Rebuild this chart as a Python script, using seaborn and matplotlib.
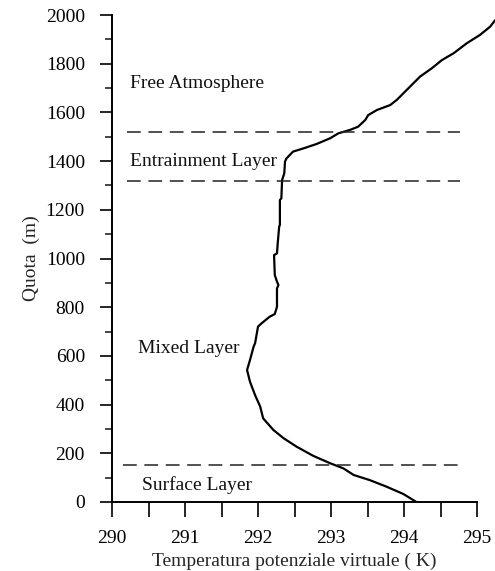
import numpy as np
import pandas as pd
import matplotlib
matplotlib.use("Agg")
import matplotlib.pyplot as plt
import seaborn as sns
from matplotlib.ticker import MultipleLocator

# ---- data ----
temperature = [294.17, 293.99, 293.76, 293.53, 293.31, 293.17, 292.99, 292.76, 292.53,
               292.35, 292.21, 292.07, 292.03, 291.96, 291.89, 291.85, 291.89, 291.94,
               291.96, 292.00, 292.05, 292.16, 292.23, 292.26, 292.26, 292.28, 292.26,
               292.23, 292.22, 292.26, 292.27, 292.29, 292.30, 292.30, 292.32, 292.33,
               292.36, 292.37, 292.39, 292.48, 292.62, 292.80, 292.99, 293.10, 293.26,
               293.37, 293.47, 293.51, 293.63, 293.81, 293.90, 294.06, 294.22, 294.38,
               294.52, 294.68, 294.86, 295.04, 295.18, 295.25]
height = [0, 33, 63, 90, 111, 138, 159, 189, 227,
          262, 296, 344, 392, 439, 494, 542, 583, 638,
          652, 720, 734, 761, 772, 802, 877, 891, 905,
          932, 1014, 1021, 1062, 1131, 1138, 1240, 1247, 1322,
          1350, 1398, 1411, 1439, 1452, 1470, 1494, 1514, 1528,
          1541, 1569, 1589, 1610, 1630, 1651, 1699, 1747, 1781,
          1815, 1843, 1884, 1918, 1952, 1979]

layer_bounds = [1520, 1320, 150]
layer_names = ["Free Atmosphere", "Entrainment Layer", "Mixed Layer", "Surface Layer"]
layer_label_y = [1720, 1400, 632, 70]
layer_label_x = [290.25, 290.25, 290.36, 290.41]

xticks = [290, 291, 292, 293, 294, 295]
yticks = [0, 200, 400, 600, 800, 1000, 1200, 1400, 1600, 1800, 2000]

df = pd.DataFrame({"T": temperature, "z": height})

sns.set_style("white")
plt.rcParams["font.family"] = ["Liberation Serif", "DejaVu Serif"]

fig = plt.figure(figsize=(4.95, 5.71), dpi=100)
ax = fig.add_axes([112 / 495, 1 - 502 / 571, (477 - 112) / 495, (502 - 15) / 571])

sns.lineplot(data=df, x="T", y="z", sort=False, estimator=None, color="black",
             linewidth=1.6, ax=ax, clip_on=False)

# dashed layer boundaries
ax.plot([290.2, 294.77], [layer_bounds[0]] * 2, color="#222222", lw=1.1, dashes=(9, 5))
ax.plot([290.2, 294.77], [layer_bounds[1]] * 2, color="#222222", lw=1.1, dashes=(9, 5))
ax.plot([290.15, 294.77], [layer_bounds[2]] * 2, color="#222222", lw=1.1, dashes=(9, 5))

for name, lx, ly in zip(layer_names, layer_label_x, layer_label_y):
    ax.text(lx, ly, name, fontsize=14, va="center", ha="left", color="#111111")

ax.set_xlim(290, 295)
ax.set_ylim(0, 2000)
ax.set_xticks(xticks)
ax.set_yticks(yticks)
ax.xaxis.set_minor_locator(MultipleLocator(0.5))
ax.yaxis.set_minor_locator(MultipleLocator(100))
ax.tick_params(axis="y", which="major", direction="out", length=9, width=1.2,
               labelsize=14, colors="black", pad=10.5, left=True)
ax.tick_params(axis="y", which="minor", direction="out", length=5, width=1.2, left=True)
ax.tick_params(axis="x", which="both", direction="out", length=11, width=1.2,
               labelsize=14, colors="black", pad=9, bottom=True)

for s in ["top", "right"]:
    ax.spines[s].set_visible(False)
for s in ["left", "bottom"]:
    ax.spines[s].set_linewidth(1.4)
    ax.spines[s].set_color("black")

ax.set_xlabel("Temperatura potenziale virtuale ( K)", fontsize=14, va="center")
ax.set_ylabel("Quota  (m)", fontsize=14)
ax.xaxis.set_label_coords(0.5, -0.121)
ax.yaxis.set_label_coords(-0.197, 0.5)

fig.savefig("out.png", dpi=100)
